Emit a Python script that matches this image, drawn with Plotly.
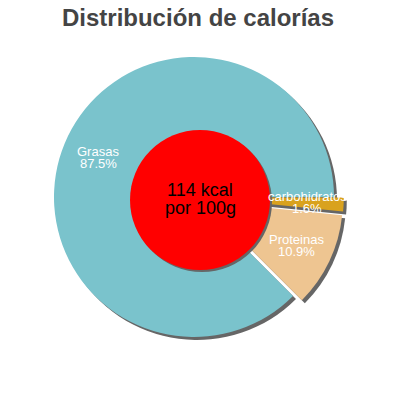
import math
import plotly.graph_objects as go

# data (kcal share per nutrient)
labels = ["carbohidratos", "Proteínas", "Grasas"]
shown_labels = ["carbohidratos", "Proteinas", "Grasas"]
percent = [1.6, 10.9, 87.5]
colors = ["#d9a21e", "#eec591", "#7ac3cc"]
pull = [0.07, 0.07, 0]
kcal = 114
center_lines = [f"{kcal} kcal", "por 100g"]

W = H = 400
cx, cy, R = 194, 197, 140          # pie centre / radius in pixels
half = R * (1 + max(pull))          # plotly shrinks radius for pulled slices


def px_x(x):
    return x / W


def px_y(y):
    return 1 - y / H


def dom(dx=0, dy=0):
    return dict(x=[px_x(cx - half + dx), px_x(cx + half + dx)],
                y=[px_y(cy + half + dy), px_y(cy - half + dy)])


fig = go.Figure()

# shadow
fig.add_trace(go.Pie(labels=labels, values=percent, sort=False, direction="clockwise",
                     rotation=90, pull=pull, domain=dom(3, 3), textinfo="none",
                     marker=dict(colors=["#666666"] * 3, line=dict(width=0)),
                     hoverinfo="skip", showlegend=False))

fig.add_trace(go.Pie(labels=labels, values=percent, sort=False, direction="clockwise",
                     rotation=90, pull=pull, domain=dom(), textinfo="none",
                     marker=dict(colors=colors, line=dict(width=0)),
                     showlegend=False))

# labels inside slices
start = 90
total = sum(percent)
lab_font = dict(family="Liberation Sans, Arial", size=13, color="white")
for name, p, pl in zip(shown_labels, percent, pull):
    span = p / total * 360
    mid = math.radians(start + span / 2)
    start += span
    r = 0.74 * R + pl * R
    lx = cx + r * math.sin(mid)
    ly = cy - r * math.cos(mid)
    fig.add_annotation(x=px_x(lx), y=px_y(ly - 6), xref="paper", yref="paper",
                       text=name, showarrow=False, xanchor="center", yanchor="middle",
                       borderpad=0, font=lab_font)
    fig.add_annotation(x=px_x(lx), y=px_y(ly + 6), xref="paper", yref="paper",
                       text=f"{p}%", showarrow=False, xanchor="center", yanchor="middle",
                       borderpad=0, font=lab_font)

# centre disc
rc, ccx, ccy = 70, 200, 200
fig.add_shape(type="circle", xref="paper", yref="paper", layer="above",
              x0=px_x(ccx - rc + 2), x1=px_x(ccx + rc + 2),
              y0=px_y(ccy + rc + 2), y1=px_y(ccy - rc + 2),
              fillcolor="#666666", line=dict(width=0))
fig.add_shape(type="circle", xref="paper", yref="paper", layer="above",
              x0=px_x(ccx - rc), x1=px_x(ccx + rc),
              y0=px_y(ccy + rc), y1=px_y(ccy - rc),
              fillcolor="#ff0000", line=dict(width=0))
for i, line in enumerate(center_lines):
    fig.add_annotation(x=px_x(ccx), y=px_y(190 + 18 * i), xref="paper", yref="paper",
                       text=line, showarrow=False, borderpad=0,
                       font=dict(family="Liberation Sans, Arial", size=18, color="black"))

fig.update_layout(
    width=W, height=H,
    margin=dict(l=0, r=0, t=0, b=0),
    paper_bgcolor="white",
    title=dict(text="<b>Distribución de calorías</b>", x=px_x(198), xanchor="center",
               y=px_y(18), yanchor="middle", yref="container",
               font=dict(family="Liberation Sans, Arial", size=24, color="#444444")),
)

fig.write_html("out.html", config={"displayModeBar": False},
               post_script="document.body.style.margin = '0';")
